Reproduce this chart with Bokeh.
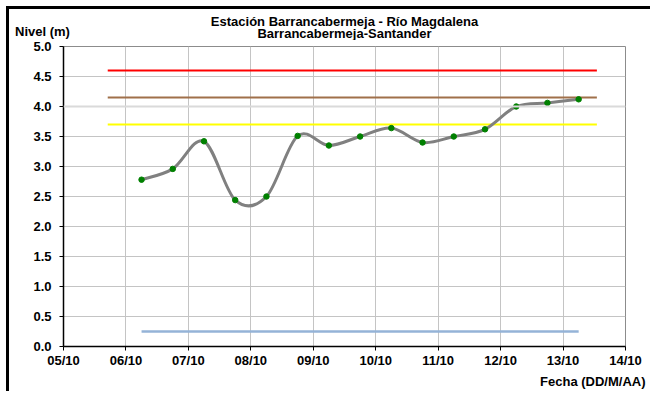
import pandas as pd
import numpy as np
from bokeh.plotting import figure
from bokeh.layouts import column
from bokeh.models import (Range1d, DaysTicker, DatetimeTickFormatter, SingleIntervalTicker,
                          PrintfTickFormatter, Span)
from bokeh.core.properties import value
from bokeh.embed import file_html
from bokeh.resources import INLINE

# ---- data ----
fechas = ["2013-10-06 06:00", "2013-10-06 18:00", "2013-10-07 06:00", "2013-10-07 18:00",
          "2013-10-08 06:00", "2013-10-08 18:00", "2013-10-09 06:00", "2013-10-09 18:00",
          "2013-10-10 06:00", "2013-10-10 18:00", "2013-10-11 06:00", "2013-10-11 18:00",
          "2013-10-12 06:00", "2013-10-12 18:00", "2013-10-13 06:00"]
nivel = [2.78, 2.96, 3.42, 2.44, 2.50, 3.51, 3.35, 3.50, 3.64, 3.40, 3.50, 3.62, 4.00, 4.06, 4.12]

umbral_inicio = "2013-10-05 17:00"
umbral_fin = "2013-10-13 13:00"
umbral_rojo = 4.60
umbral_cafe = 4.15
umbral_amarillo = 3.70
nivel_minimo = 0.25

titulo1 = "Estación Barrancabermeja - Río Magdalena"
titulo2 = "Barrancabermeja-Santander"
eje_y = "Nivel (m)"
eje_x = "Fecha (DD/M/AA)"

x0 = pd.Timestamp("2013-10-05")
x1 = pd.Timestamp("2013-10-14")

FONT = "Liberation Sans"
FS = "13px"
W = 641

# ---------- main chart ----------
p = figure(width=W, height=330, output_backend="svg", toolbar_location=None,
           x_axis_type="datetime", x_range=Range1d(x0, x1), y_range=Range1d(0, 5),
           min_border_left=54, min_border_right=25, min_border_top=6, min_border_bottom=23,
           frame_align=False)
p.background_fill_color = "white"
p.border_fill_color = "white"
p.outline_line_color = "#8c8c8c"
p.outline_line_width = 1

p.xaxis.ticker = DaysTicker(days=list(range(1, 32)))
p.xaxis.formatter = DatetimeTickFormatter(days="%d/%m", months="%d/%m")
p.yaxis.ticker = SingleIntervalTicker(interval=0.5)
p.yaxis.formatter = PrintfTickFormatter(format="%.1f")
for ax in (p.xaxis, p.yaxis):
    ax.axis_line_color = "black"
    ax.axis_line_width = 1.5
    ax.major_tick_line_color = "black"
    ax.major_tick_in = 0
    ax.major_tick_out = 4
    ax.minor_tick_line_color = None
    ax.major_label_text_font = FONT
    ax.major_label_text_font_style = "bold"
    ax.major_label_text_font_size = FS
    ax.major_label_text_color = "black"
p.xaxis.major_label_standoff = 2
p.yaxis.major_label_standoff = 8

p.xgrid.ticker = DaysTicker(days=list(range(1, 32)))
p.ygrid.ticker = SingleIntervalTicker(interval=0.5)
p.grid.grid_line_color = "#c4c4c4"
p.grid.grid_line_width = 1
p.add_layout(Span(location=4.0, dimension="width", line_color="#dadada", line_width=2))

ux = pd.to_datetime([umbral_inicio, umbral_fin])
p.line(ux, [umbral_rojo] * 2, line_color="#ff0000", line_width=2)
p.line(ux, [umbral_cafe] * 2, line_color="#a0704a", line_width=2)
p.line(ux, [umbral_amarillo] * 2, line_color="#ffff00", line_width=2)

t = pd.to_datetime(fechas)
p.line([t[0], t[-1]], [nivel_minimo] * 2, line_color="#95b3d7", line_width=2.5)

# smoothed series (Bezier through the data points, Excel-like smoothing)
xs = np.array([(ti - pd.Timestamp(0)).total_seconds() * 1000 for ti in t])
ys = np.array(nivel)
n = len(xs)
xp = np.concatenate([[xs[0]], xs, [xs[-1]]])
yp = np.concatenate([[ys[0]], ys, [ys[-1]]])
cx0 = xs[:-1] + (xp[2:n + 1] - xp[0:n - 1]) / 6
cy0 = ys[:-1] + (yp[2:n + 1] - yp[0:n - 1]) / 6
cx1 = xs[1:] - (xp[3:n + 2] - xp[1:n]) / 6
cy1 = ys[1:] - (yp[3:n + 2] - yp[1:n]) / 6
p.bezier(x0=xs[:-1], y0=ys[:-1], x1=xs[1:], y1=ys[1:], cx0=cx0, cy0=cy0, cx1=cx1, cy1=cy1,
         line_color="#808080", line_width=3, line_cap="round")
p.scatter(t, nivel, size=5.5, fill_color="#008000", line_color="#008000")


def text_strip(height):
    f = figure(width=W, height=height, output_backend="svg", toolbar_location=None,
               x_range=Range1d(0, W), y_range=Range1d(height, 0),
               x_axis_location=None, y_axis_location=None,
               min_border=0, min_border_left=0, min_border_right=0,
               min_border_top=0, min_border_bottom=0, frame_align=False)
    f.outline_line_color = None
    f.grid.visible = False
    f.background_fill_color = "white"
    f.border_fill_color = "white"
    return f


def put(f, x, y, txt, align):
    f.text(x=[x], y=[y], text=[txt], text_align=align, text_baseline="middle",
           text_font=value(FONT), text_font_style="bold", text_font_size=FS, text_color="black")


# ---------- header strip: titles and y caption ----------
top = text_strip(31)
put(top, 335, 12, titulo1, "center")
put(top, 335, 24, titulo2, "center")
put(top, 5.5, 21.5, eje_y, "left")

# ---------- footer strip: x caption ----------
bottom = text_strip(21)
put(bottom, 636, 10.5, eje_x, "right")

inner = column(top, p, bottom, spacing=0,
               styles={"border-left": "3px solid black", "border-top": "3px solid black"})
page = column(inner, spacing=0,
              styles={"padding-left": "6px", "padding-top": "6px", "background-color": "white"})
open("out.html", "w").write(file_html(page, INLINE))
